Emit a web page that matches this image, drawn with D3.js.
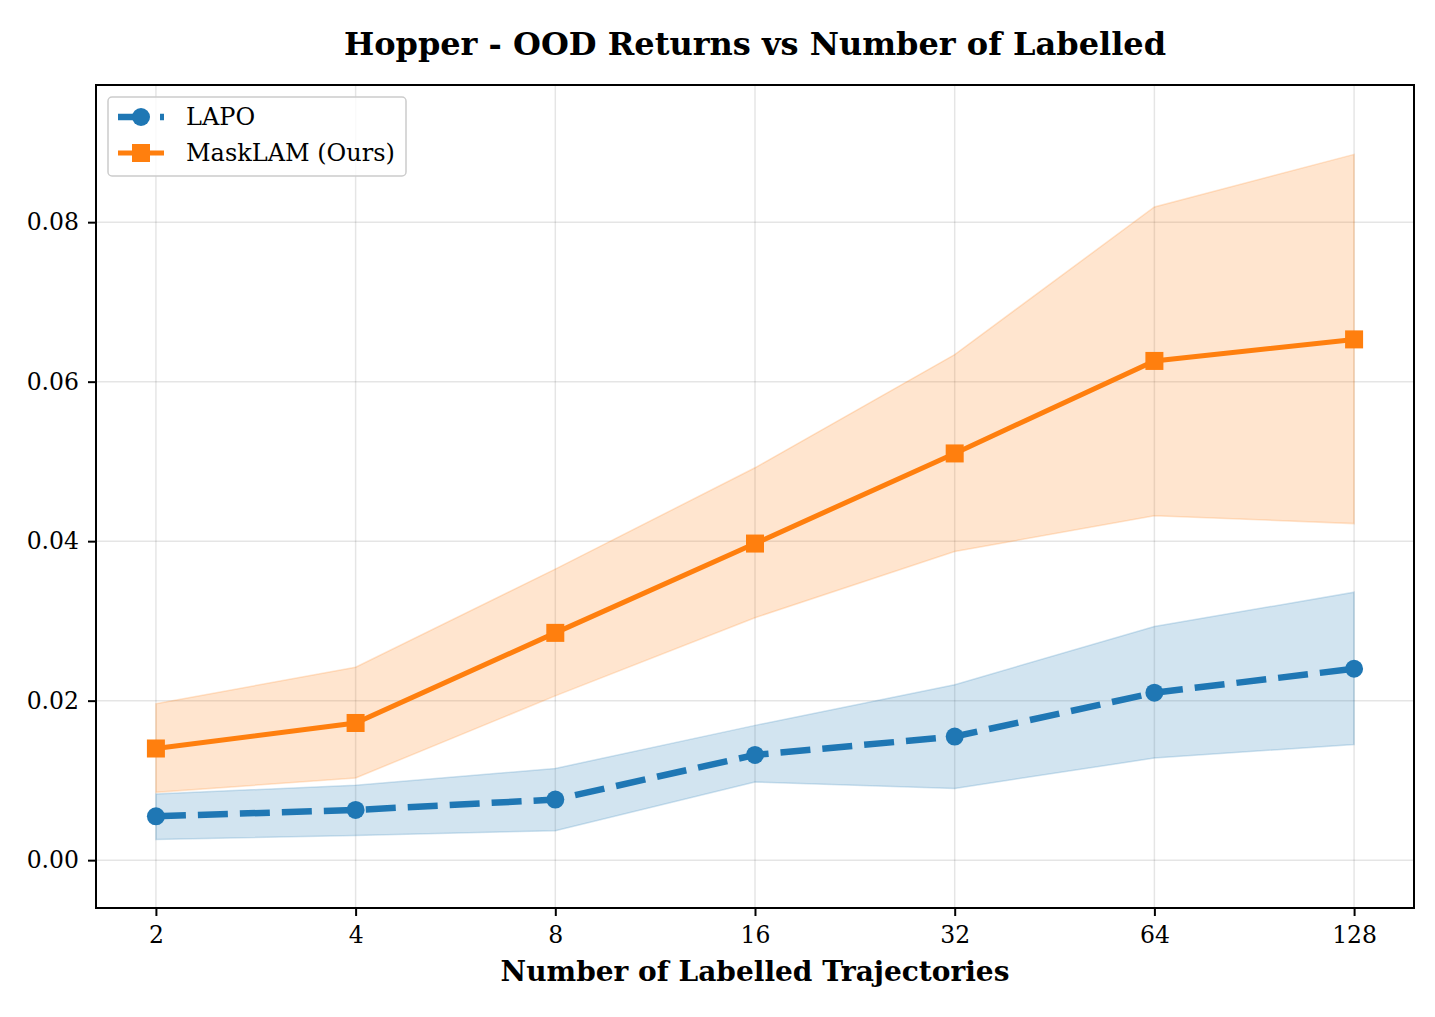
<!DOCTYPE html>
<html>
<head>
<meta charset="utf-8">
<script src="https://cdn.jsdelivr.net/npm/d3@7"></script>
<style>
  body { margin: 0; background: #fff; }
  text { font-family: "DejaVu Serif", serif; }
</style>
</head>
<body>
<svg id="chart" width="1435" height="1017"></svg>
<script>
// data
const trajectories = [2, 4, 8, 16, 32, 64, 128];
const yTicks = [0.00, 0.02, 0.04, 0.06, 0.08];

const lapoMean  = [0.0055, 0.0063, 0.0076, 0.0132, 0.0155, 0.0210, 0.0240];
const lapoLow   = [0.0026, 0.0031, 0.0037, 0.0098, 0.0090, 0.0128, 0.0145];
const lapoHigh  = [0.0083, 0.0094, 0.0115, 0.0169, 0.0220, 0.0293, 0.0336];

const maskMean  = [0.0140, 0.0172, 0.0285, 0.0397, 0.0510, 0.0626, 0.0653];
const maskLow   = [0.0085, 0.0103, 0.0206, 0.0304, 0.0387, 0.0432, 0.0422];
const maskHigh  = [0.0196, 0.0242, 0.0365, 0.0492, 0.0634, 0.0819, 0.0885];

const series = [
  { name: "LAPO", color: "#1f77b4", mean: lapoMean, low: lapoLow, high: lapoHigh, dash: "30,12", marker: "circle", width: 6.5 },
  { name: "MaskLAM (Ours)", color: "#ff7f0e", mean: maskMean, low: maskLow, high: maskHigh, dash: null, marker: "square", width: 5 }
];

const margin = { top: 85, right: 21, bottom: 109, left: 96 };
const W = 1435, H = 1017;
const iw = W - margin.left - margin.right;
const ih = H - margin.top - margin.bottom;

const svg = d3.select("#chart");
const g = svg.append("g").attr("transform", `translate(${margin.left},${margin.top})`);

const x = d3.scaleLog().base(2).domain([Math.pow(2, 0.7), Math.pow(2, 7.3)]).range([0, iw]);
const y = d3.scaleLinear().domain([-0.006, 0.0972]).range([ih, 0]);

//grid
g.append("g").selectAll("line").data(trajectories).join("line")
  .attr("x1", d => x(d)).attr("x2", d => x(d))
  .attr("y1", 0).attr("y2", ih)
  .attr("stroke", "#000").attr("stroke-opacity", 0.1).attr("stroke-width", 1.5);
g.append("g").selectAll("line").data(yTicks).join("line")
  .attr("y1", d => y(d)).attr("y2", d => y(d))
  .attr("x1", 0).attr("x2", iw)
  .attr("stroke", "#000").attr("stroke-opacity", 0.1).attr("stroke-width", 1.5);

//bands
series.forEach(s => {
  const pts = trajectories.map((t, i) => ({ t, lo: s.low[i], hi: s.high[i] }));
  g.append("path")
    .datum(pts)
    .attr("d", d3.area().x(d => x(d.t)).y0(d => y(d.lo)).y1(d => y(d.hi)))
    .attr("fill", s.color).attr("fill-opacity", 0.2)
    .attr("stroke", s.color).attr("stroke-opacity", 0.2).attr("stroke-width", 1.5);
});

//lines + markers
series.forEach(s => {
  const pts = trajectories.map((t, i) => ({ t, v: s.mean[i] }));
  g.append("path")
    .datum(pts)
    .attr("d", d3.line().x(d => x(d.t)).y(d => y(d.v)))
    .attr("fill", "none").attr("stroke", s.color)
    .attr("stroke-width", s.width)
    .attr("stroke-dasharray", s.dash);
  if (s.marker === "circle") {
    g.append("g").selectAll("circle").data(pts).join("circle")
      .attr("cx", d => x(d.t)).attr("cy", d => y(d.v)).attr("r", 9)
      .attr("fill", s.color);
  } else {
    g.append("g").selectAll("rect").data(pts).join("rect")
      .attr("x", d => x(d.t) - 9).attr("y", d => y(d.v) - 9)
      .attr("width", 18).attr("height", 18)
      .attr("fill", s.color);
  }
});

//axes
const xAxis = g.append("g").attr("transform", `translate(0,${ih})`)
  .call(d3.axisBottom(x).tickValues(trajectories).tickFormat(d3.format("d")).tickSize(8).tickPadding(10));
const yAxis = g.append("g")
  .call(d3.axisLeft(y).tickValues(yTicks).tickFormat(d3.format(".2f")).tickSize(8).tickPadding(9));
[xAxis, yAxis].forEach(a => {
  a.select(".domain").remove();
  a.selectAll(".tick line").attr("stroke", "#000").attr("stroke-width", 2);
  a.selectAll(".tick text").attr("font-size", 23.5).attr("fill", "#000")
    .style("font-family", "DejaVu Serif");
});

g.append("rect").attr("width", iw).attr("height", ih)
  .attr("fill", "none").attr("stroke", "#000").attr("stroke-width", 2);

//title + label
svg.append("text").attr("x", margin.left + iw / 2).attr("y", 55)
  .attr("text-anchor", "middle").attr("font-size", 32).attr("font-weight", "bold")
  .text("Hopper - OOD Returns vs Number of Labelled");
svg.append("text").attr("x", margin.left + iw / 2).attr("y", 981)
  .attr("text-anchor", "middle").attr("font-size", 28).attr("font-weight", "bold")
  .text("Number of Labelled Trajectories");

//legend
const legend = g.append("g").attr("transform", "translate(12,12)");
legend.append("rect").attr("width", 298).attr("height", 79).attr("rx", 4)
  .attr("fill", "#fff").attr("fill-opacity", 0.8)
  .attr("stroke", "#ccc").attr("stroke-width", 1.5);
series.forEach((s, i) => {
  const ly = 20 + i * 36;
  const row = legend.append("g").attr("transform", `translate(10,${ly})`);
  row.append("line").attr("x1", 0).attr("x2", 46).attr("y1", 0).attr("y2", 0)
    .attr("stroke", s.color).attr("stroke-width", s.width)
    .attr("stroke-dasharray", s.dash ? "23,19,4" : null);
  if (s.marker === "circle") {
    row.append("circle").attr("cx", 23).attr("cy", 0).attr("r", 9).attr("fill", s.color);
  } else {
    row.append("rect").attr("x", 14).attr("y", -9).attr("width", 18).attr("height", 18).attr("fill", s.color);
  }
  row.append("text").attr("x", 68).attr("y", 0).attr("dy", "0.35em")
    .attr("font-size", 24).text(s.name);
});
</script>
</body>
</html>
